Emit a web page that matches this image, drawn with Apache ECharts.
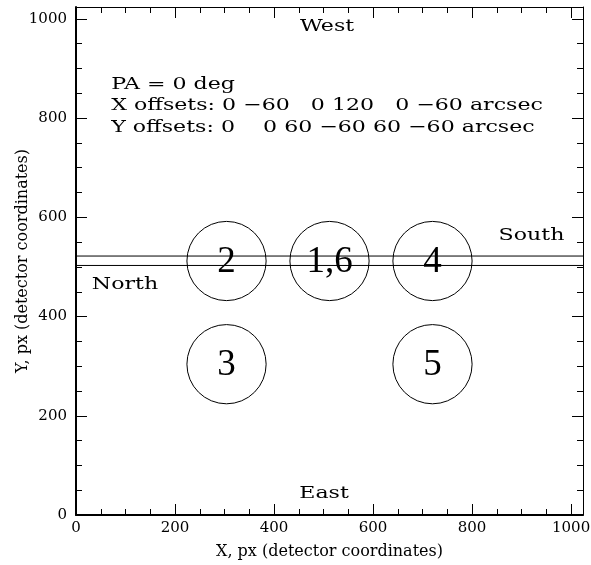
<!DOCTYPE html>
<html><head><meta charset="utf-8">
<script src="https://cdn.jsdelivr.net/npm/echarts@6/dist/echarts.min.js"></script>
<style>html,body{margin:0;padding:0;background:#fff}#c{width:591px;height:565px}</style>
</head><body><div id="c"></div>
<script>
// ---- data ----
const xTicks = [0, 200, 400, 600, 800, 1000];
const yTicks = [0, 200, 400, 600, 800, 1000];
const axisMax = 1024;
const circleLabels = ['2', '1,6', '4', '3', '5'];
const circleX = [304, 512, 720, 304, 720];
const circleY = [512, 512, 512, 304, 304];
const circleR = [80, 80, 80, 80, 80];
const slitX = [0, 1024];
const slitY = [503, 522];
const noteText = ['West', 'East', 'North', 'South', 'PA = 0 deg',
  'X offsets: 0 \u221260   0 120   0 \u221260 arcsec',
  'Y offsets: 0    0 60 \u221260 60 \u221260 arcsec'];
const noteX = [507, 501, 99, 920, 71, 71, 71];
const noteY = [984, 44, 464, 563, 868, 825, 781];
const noteAlign = ['center', 'center', 'center', 'center', 'left', 'left', 'left'];

// ---- chart ----
const FF = '"DejaVu Serif", serif';
const NOTE_SIZE = 17, NOTE_SCALE = 1.3;
const chart = echarts.init(document.getElementById('c'), null, {renderer: 'canvas'});

function ax(pos, interval, tickLen, opts) {
  return Object.assign({
    type: 'value', position: pos, min: 0, max: axisMax, interval: interval,
    axisLine: {show: false, onZero: false},
    axisTick: {show: true, inside: true, length: tickLen, lineStyle: {color: '#000', width: 1}},
    axisLabel: {show: false},
    splitLine: {show: false}
  }, opts || {});
}
const labelStyle = (isX) => ({
  show: true, color: '#000', fontFamily: FF, fontSize: 15, margin: isX ? 6 : 9,
  formatter: v => ((isX ? xTicks : yTicks).includes(v) ? String(v) : '')
});
const nameStyle = {color: '#000', fontFamily: FF, fontSize: 16};

const circleData = circleX.map((x, i) => [x, circleY[i], circleR[i], i]);
const noteData = noteX.map((x, i) => [x, noteY[i], i]);

chart.setOption({
  animation: false,
  backgroundColor: '#fff',
  grid: {left: 76, right: 8, top: 7, bottom: 50, containLabel: false, outerBoundsMode: 'none'},
  xAxis: [
    ax('bottom', 200, 11, {
      axisLine: {show: true, onZero: false, lineStyle: {color: '#000', width: 2}},
      axisLabel: labelStyle(true),
      name: 'X, px (detector coordinates)', nameLocation: 'middle', nameGap: 29, nameMoveOverlap: false,
      nameTextStyle: nameStyle
    }),
    ax('bottom', 50, 6),
    ax('top', 200, 11, {axisLine: {show: true, onZero: false, lineStyle: {color: '#000', width: 1}}}),
    ax('top', 50, 6)
  ],
  yAxis: [
    ax('left', 200, 11, {
      axisLine: {show: true, onZero: false, lineStyle: {color: '#000', width: 2}},
      axisLabel: labelStyle(false),
      name: 'Y, px (detector coordinates)', nameLocation: 'middle', nameGap: 45, nameRotate: 90,
      nameMoveOverlap: false, nameTextStyle: nameStyle
    }),
    ax('left', 50, 6),
    ax('right', 200, 11, {axisLine: {show: true, onZero: false, lineStyle: {color: '#000', width: 1}}}),
    ax('right', 50, 6)
  ],
  series: [
    ...slitY.map(y => ({
      type: 'line', xAxisIndex: 0, yAxisIndex: 0, symbol: 'none', silent: true,
      data: slitX.map(x => [x, y]),
      lineStyle: {color: '#000', width: 1}
    })),
    {
      type: 'custom', xAxisIndex: 0, yAxisIndex: 0, silent: true,
      data: circleData,
      renderItem: (params, api) => {
        const c = api.coord([api.value(0), api.value(1)]);
        const r = api.size([api.value(2), 0])[0];
        const i = api.value(3);
        return {type: 'group', children: [
          {type: 'circle', shape: {cx: c[0], cy: c[1], r: r},
           style: {fill: 'none', stroke: '#000', lineWidth: 1}},
          {type: 'text', x: c[0], y: c[1] + 1,
           style: {text: circleLabels[i], font: '37px "Liberation Serif", serif', fill: '#000',
                   align: 'center', verticalAlign: 'middle'}}
        ]};
      }
    },
    {
      type: 'custom', xAxisIndex: 0, yAxisIndex: 0, silent: true,
      data: noteData,
      renderItem: (params, api) => {
        const c = api.coord([api.value(0), api.value(1)]);
        const i = api.value(2);
        return {type: 'text', x: c[0], y: c[1], scaleX: NOTE_SCALE,
          style: {text: noteText[i], font: NOTE_SIZE + 'px ' + FF, fill: '#000',
                  align: noteAlign[i], verticalAlign: 'middle'}};
      }
    }
  ]
});
</script></body></html>
